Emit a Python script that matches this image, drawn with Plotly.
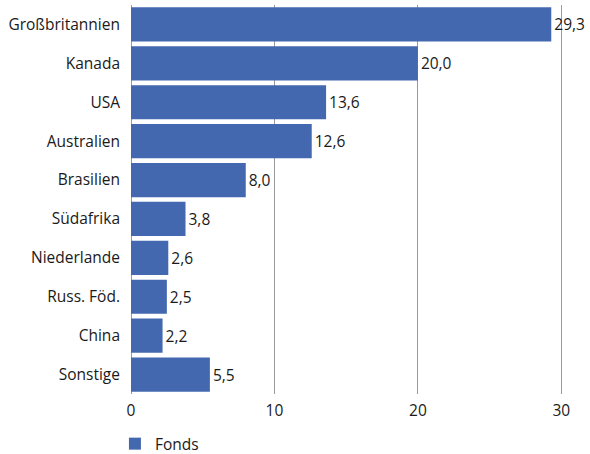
import plotly.graph_objects as go

countries = ["Großbritannien", "Kanada", "USA", "Australien", "Brasilien",
             "Südafrika", "Niederlande", "Russ. Föd.", "China", "Sonstige"]
values = [29.3, 20.0, 13.6, 12.6, 8.0, 3.8, 2.6, 2.5, 2.2, 5.5]
series_name = "Fonds"
x_ticks = [0, 10, 20, 30]

FONT = "Open Sans, Noto Sans, sans-serif"
TXT = "#1a1a1a"

fig = go.Figure()
fig.add_trace(go.Bar(
    x=values, y=countries, orientation="h", name=series_name,
    marker=dict(color="#4468B0", line=dict(width=0)),
    width=0.88,
    text=values, texttemplate="%{x:.1f}", textposition="outside",
    textfont=dict(size=15.5, color=TXT, family=FONT),
    cliponaxis=False,
))
fig.update_layout(
    width=590, height=454,
    margin=dict(l=131, r=0, t=5, b=60, autoexpand=False),
    paper_bgcolor="white", plot_bgcolor="white",
    separators=",.",
    font=dict(family=FONT, size=15.5, color=TXT),
    showlegend=True,
    legend=dict(orientation="h", x=-0.035, xanchor="left", y=-0.085, yanchor="top",
                font=dict(size=15.5, color=TXT), itemwidth=30,
                bgcolor="rgba(0,0,0,0)"),
    xaxis=dict(range=[0, 32], tickvals=x_ticks, ticktext=[str(t) for t in x_ticks],
               showgrid=True, gridcolor="#9a9a9a", gridwidth=1,
               zeroline=True, zerolinecolor="#9a9a9a", zerolinewidth=1,
               showline=False, ticks="", ticklen=0, automargin=False,
               ticklabelstandoff=5,
               tickfont=dict(size=15.5, color=TXT)),
    yaxis=dict(autorange="reversed", showgrid=False, ticks="", ticklen=0,
               ticklabelstandoff=10, automargin=False,
               tickfont=dict(size=15.5, color=TXT)),
    bargap=0.12,
)
fig.write_html("out.html", config={"displayModeBar": False},
               post_script="document.body.style.margin='0';")
